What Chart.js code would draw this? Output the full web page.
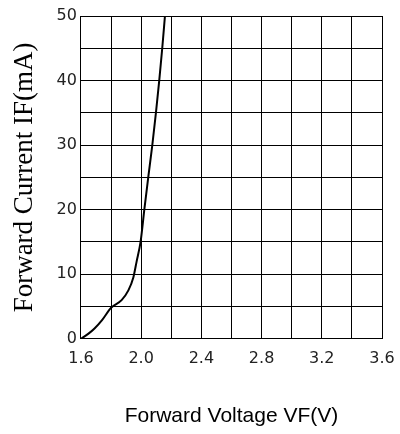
<!DOCTYPE html>
<html>
<head>
<meta charset="utf-8">
<script src="https://cdn.jsdelivr.net/npm/chart.js@4"></script>
<style>
html,body{margin:0;padding:0;background:#fff;}
#wrap{width:400px;height:434px;}
</style>
</head>
<body>
<div id="wrap"><canvas id="c" width="400" height="434"></canvas></div>
<script>
const voltage = [1.60, 1.65, 1.69, 1.74, 1.80, 1.87, 1.915, 1.948, 1.97, 1.996, 2.021, 2.047, 2.074, 2.098, 2.12, 2.14, 2.158];
const current = [0, 0.8, 1.6, 2.9, 4.8, 6.0, 7.5, 9.5, 12, 15, 20, 25, 30, 35, 40, 45, 50];
const xTickLabels = ['1.6', '2.0', '2.4', '2.8', '3.2', '3.6'];
const yTickLabels = ['0', '10', '20', '30', '40', '50'];
const xTitle = 'Forward Voltage VF(V)';
const yTitle = 'Forward Current IF(mA)';

const pts = voltage.map((v, i) => ({x: v, y: current[i]}));

new Chart(document.getElementById('c'), {
  type: 'scatter',
  data: {
    datasets: [{
      data: pts,
      showLine: true,
      borderColor: '#000',
      borderWidth: 2,
      pointRadius: 0,
      cubicInterpolationMode: 'monotone',
      fill: false
    }]
  },
  options: {
    responsive: false,
    animation: false,
    devicePixelRatio: 1,
    layout: {padding: {top: 16, right: 18, bottom: 5, left: 4}},
    plugins: {legend: {display: false}, tooltip: {enabled: false}},
    scales: {
      x: {
        type: 'linear', min: 1.6, max: 3.6,
        border: {color: '#000', width: 1},
        grid: {color: '#000', lineWidth: 1, tickLength: 0, drawTicks: false},
        ticks: {
          stepSize: 0.2, autoSkip: false, maxRotation: 0, padding: 5,
          color: '#222', font: {family: 'DejaVu Sans', size: 16, lineHeight: 1.875},
          callback: function(v) {
            const s = (Math.round(v * 10) / 10).toFixed(1);
            return xTickLabels.includes(s) ? s : '';
          }
        },
        title: {display: true, text: xTitle, color: '#000', font: {family: 'Liberation Sans', size: 21}, padding: {top: 25, bottom: 0}}
      },
      y: {
        type: 'linear', min: 0, max: 50,
        border: {color: '#000', width: 1},
        grid: {color: '#000', lineWidth: 1, tickLength: 0, drawTicks: false},
        ticks: {
          stepSize: 5, autoSkip: false, padding: 4,
          color: '#222', font: {family: 'DejaVu Sans', size: 16},
          callback: function(v) {
            const s = String(Math.round(v));
            return yTickLabels.includes(s) ? s : '';
          }
        },
        title: {display: true, text: yTitle, color: '#000', font: {family: 'Liberation Serif', size: 27}, padding: {top: 5, bottom: 11.2}}
      }
    }
  }
});
</script>
</body>
</html>
